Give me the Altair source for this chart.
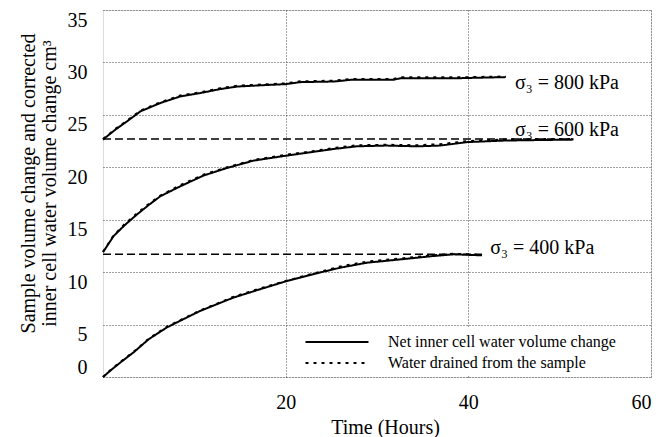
import altair as alt
import pandas as pd

# ---- data ----
t400 = [0, 1, 2, 3.35, 5, 7, 9, 10.66, 12.5, 14.3, 17.2, 20.15, 23.4, 26, 28.9, 32.6, 36.2, 38.4, 41.5]
net400 = [0, 0.75, 1.45, 2.35, 3.6, 4.73, 5.6, 6.31, 6.95, 7.58, 8.37, 9.16, 9.89, 10.43, 10.9, 11.22, 11.54, 11.7, 11.6]
drn400 = [0, 0.8, 1.5, 2.4, 3.65, 4.8, 5.65, 6.35, 7.0, 7.65, 8.45, 9.2, 9.95, 10.55, 11.0, 11.3, 11.6, 11.75, 11.65]

t600 = [0, 1.16, 2.4, 3.72, 5, 6.28, 8.47, 11, 13.6, 16.5, 20, 22.7, 25.3, 27.8, 31, 34.4, 36.9, 39.9, 44, 48, 51.5]
net600 = [11.9, 13.44, 14.5, 15.5, 16.4, 17.24, 18.19, 19.21, 19.94, 20.64, 21.1, 21.43, 21.75, 22.0, 22.07, 22.0, 22.07, 22.4, 22.55, 22.6, 22.64]
drn600 = [11.95, 13.5, 14.6, 15.6, 16.5, 17.3, 18.3, 19.3, 20.0, 20.7, 21.2, 21.5, 21.85, 22.1, 22.15, 22.1, 22.2, 22.5, 22.65, 22.7, 22.7]

t800 = [0, 1.35, 2.63, 4.09, 6.28, 8.47, 10.66, 12.85, 14.7, 18, 20, 21.6, 25.3, 27.1, 31.8, 32.6, 39.1, 44.1]
net800 = [22.64, 23.59, 24.38, 25.33, 26.13, 26.76, 27.08, 27.46, 27.7, 27.85, 27.93, 28.12, 28.18, 28.34, 28.34, 28.5, 28.5, 28.6]
drn800 = [22.7, 23.65, 24.45, 25.4, 26.2, 26.85, 27.15, 27.55, 27.78, 27.92, 28.0, 28.2, 28.26, 28.42, 28.42, 28.58, 28.58, 28.66]

# dashed reference levels (final value of previous stage)
ref_level = [11.7, 22.7]
ref_end = [41.5, 51.5]

# annotations
ann_label = ["σ₃ = 800 kPa", "σ₃ = 600 kPa", "σ₃ = 400 kPa"]
ann_t = [45.1, 45.1, 42.4]
ann_v = [28.05, 23.55, 12.3]

series_names = ["Net inner cell water volume change", "Water drained from the sample"]

rows = []
for name, tt, a, b in [("400", t400, net400, drn400), ("600", t600, net600, drn600), ("800", t800, net800, drn800)]:
    for ti, vi in zip(tt, a):
        rows.append({"t": ti, "v": vi, "curve": name, "series": series_names[0]})
    for ti, vi in zip(tt, b):
        rows.append({"t": ti, "v": vi, "curve": name, "series": series_names[1]})
df = pd.DataFrame(rows)

ref_df = pd.DataFrame({"x0": [0, 0], "x1": ref_end, "y": ref_level})
ann_df = pd.DataFrame({"t": ann_t, "v": ann_v, "label": ann_label})

FONT = "Liberation Serif, Times New Roman, Times, DejaVu Serif, serif"

xscale = alt.Scale(domain=[0, 60], nice=False, zero=True)
yscale = alt.Scale(domain=[0, 35], nice=False)

xaxis = alt.Axis(
    values=[20, 40, 60], title="Time (Hours)", ticks=False, domain=False,
    labelFont=FONT, labelFontSize=20, labelPadding=15, labelColor="black",
    titleFont=FONT, titleFontSize=20, titleFontWeight="normal", titleColor="black",
    titleX=282, titleY=50, titleBaseline="middle", titleAlign="center",
    grid=True, gridDash=[1, 2], gridColor="#444", gridWidth=1,
)
yaxis = alt.Axis(
    values=[0, 5, 10, 15, 20, 25, 30, 35],
    title=["Sample volume change and corrected", "inner cell water volume change cm³"],
    ticks=False, domain=False,
    labelFont=FONT, labelFontSize=20, labelPadding=16, labelColor="black",
    labelBaseline={"condition": {"test": "datum.value === 0", "value": "bottom"}, "value": "top"},
    titleFont=FONT, titleFontSize=20, titleFontWeight="normal", titleColor="black",
    titleX=-75, titleY=173, titleBaseline="middle", titleAlign="center", titleAngle=-90,
    titleLineHeight=21,
    grid=True, gridDash=[1, 2], gridColor="#444", gridWidth=1,
)

lines = alt.Chart(df).mark_line(color="black", strokeWidth=2).encode(
    x=alt.X("t:Q", scale=xscale, axis=xaxis),
    y=alt.Y("v:Q", scale=yscale, axis=yaxis),
    detail="curve:N",
    strokeDash=alt.StrokeDash(
        "series:N",
        scale=alt.Scale(domain=series_names, range=[[1, 0], [3, 5]]),
        legend=alt.Legend(
            title=None, orient="none", legendX=220, legendY=318,
            symbolType="M-4,0H4", symbolSize=248, symbolStrokeWidth=2,
            symbolStrokeColor="black",
            labelFont=FONT, labelFontSize=16, labelColor="black", labelOffset=42,
            labelLimit=0, rowPadding=4, fillColor="white", padding=5,
        ),
    ),
)

rules = alt.Chart(ref_df).mark_rule(color="black", strokeWidth=1.6, strokeDash=[8, 4]).encode(
    x="x0:Q", x2="x1:Q", y="y:Q"
)

texts = alt.Chart(ann_df).mark_text(
    align="left", baseline="middle", font=FONT, fontSize=20, color="black"
).encode(x="t:Q", y="v:Q", text="label:N")

chart = alt.layer(rules, lines, texts).properties(
    width=548, height=367,
    padding={"left": 103, "top": 10, "right": 14, "bottom": 60},
    autosize=alt.AutoSizeParams(type="none"),
).configure_view(stroke="black", strokeWidth=2).configure(background="white")

chart.save("out.html", embed_options={"renderer": "svg", "actions": False})
